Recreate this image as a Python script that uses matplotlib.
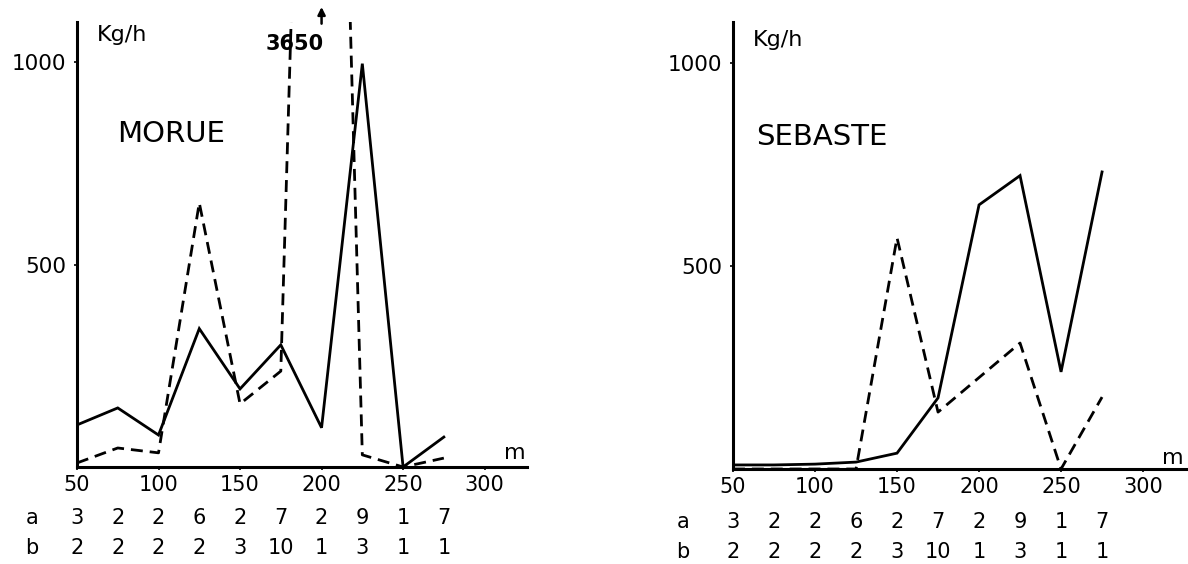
import matplotlib
matplotlib.use("Agg")
import matplotlib.pyplot as plt
from matplotlib.transforms import blended_transform_factory

# depths (m) and the two count rows printed under each panel
depths = [50, 75, 100, 125, 150, 175, 200, 225, 250, 275]
row_a = [3, 2, 2, 6, 2, 7, 2, 9, 1, 7]
row_b = [2, 2, 2, 2, 3, 10, 1, 3, 1, 1]

# catch rates Kg/h
morue_solid = [104, 146, 79, 342, 193, 302, 97, 997, 0, 74]
morue_dashed = [10, 47, 35, 653, 156, 237, 3650, 30, 0, 22]
sebaste_solid = [10, 10, 12, 17, 39, 175, 650, 722, 239, 731]
sebaste_dashed = [0, 0, 0, 0, 569, 140, 225, 310, 0, 177]

x_ticks = [50, 100, 150, 200, 250, 300]
y_ticks = [500, 1000]

plt.rcParams['font.family'] = ['DejaVu Sans']
W, H = 1188, 564
fig = plt.figure(figsize=(W / 100, H / 100), dpi=100)
fig.patch.set_facecolor('white')


def setup(ax, xmax):
    ax.set_xlim(50, xmax)
    ax.set_ylim(0, 1100)
    for s in ['top', 'right']:
        ax.spines[s].set_visible(False)
    for s in ['left', 'bottom']:
        ax.spines[s].set_linewidth(2.2)
        ax.spines[s].set_color('black')
    ax.set_xticks(x_ticks)
    ax.set_yticks(y_ticks)
    ax.tick_params(axis='x', length=2.5, width=1.2, pad=3, labelsize=15)
    ax.tick_params(axis='y', length=2.5, width=1.2, pad=5, labelsize=15.5)
    ax.set_facecolor('white')


def draw_panel(ax, solid, dashed, title, title_pos, kg_pos, m_pos, row_y, lab_dx):
    ax.plot(depths, solid, color='black', lw=2.0, solid_joinstyle='miter')
    ax.plot(depths, dashed, color='black', lw=2.0, dashes=(4.3, 2.5))
    ax.text(title_pos[0], title_pos[1], title, transform=ax.transAxes,
            fontsize=21, ha='left', va='center')
    ax.text(kg_pos[0], kg_pos[1], 'Kg/h', transform=ax.transAxes,
            fontsize=16, ha='left', va='center')
    ax.text(m_pos[0], m_pos[1], 'm', transform=ax.transAxes,
            fontsize=16, ha='center', va='center')
    tr = blended_transform_factory(ax.transData, fig.transFigure)
    tl = blended_transform_factory(ax.transAxes, fig.transFigure)
    for vals, y, lab in [(row_a, row_y[0], 'a'), (row_b, row_y[1], 'b')]:
        ax.text(lab_dx, y, lab, transform=tl, fontsize=15, ha='center', va='center')
        for d, v in zip(depths, vals):
            ax.text(d, y, str(v), transform=tr, fontsize=15, ha='center', va='center')


# left panel: MORUE
ax1 = fig.add_axes([77 / W, (H - 467) / H, 450 / W, 445 / H])
setup(ax1, 326)
draw_panel(ax1, morue_solid, morue_dashed, 'MORUE',
           (0.089, 0.748), (0.044, 0.971), (0.973, 0.031),
           ((H - 518) / H, (H - 548) / H), -0.10)

# off-scale value of the dashed line
peak = max(morue_dashed)
peak_x = depths[morue_dashed.index(peak)]
ax1.text(0.484, 0.951, str(peak), transform=ax1.transAxes,
         fontsize=15, ha='center', va='center', fontweight='bold')
ax1.annotate('', xy=(peak_x, 1.04), xytext=(peak_x, 0.99),
             xycoords=('data', 'axes fraction'), textcoords=('data', 'axes fraction'),
             arrowprops=dict(arrowstyle='-|>', lw=1.8, color='black',
                             mutation_scale=11), annotation_clip=False)

# right panel: SEBASTE
ax2 = fig.add_axes([733 / W, (H - 469) / H, 455 / W, 447 / H])
setup(ax2, 327.4)
draw_panel(ax2, sebaste_solid, sebaste_dashed, 'SEBASTE',
           (0.05, 0.743), (0.044, 0.96), (0.967, 0.025),
           ((H - 522) / H, (H - 552) / H), -0.11)

fig.savefig('out.png', dpi=100, facecolor='white')
